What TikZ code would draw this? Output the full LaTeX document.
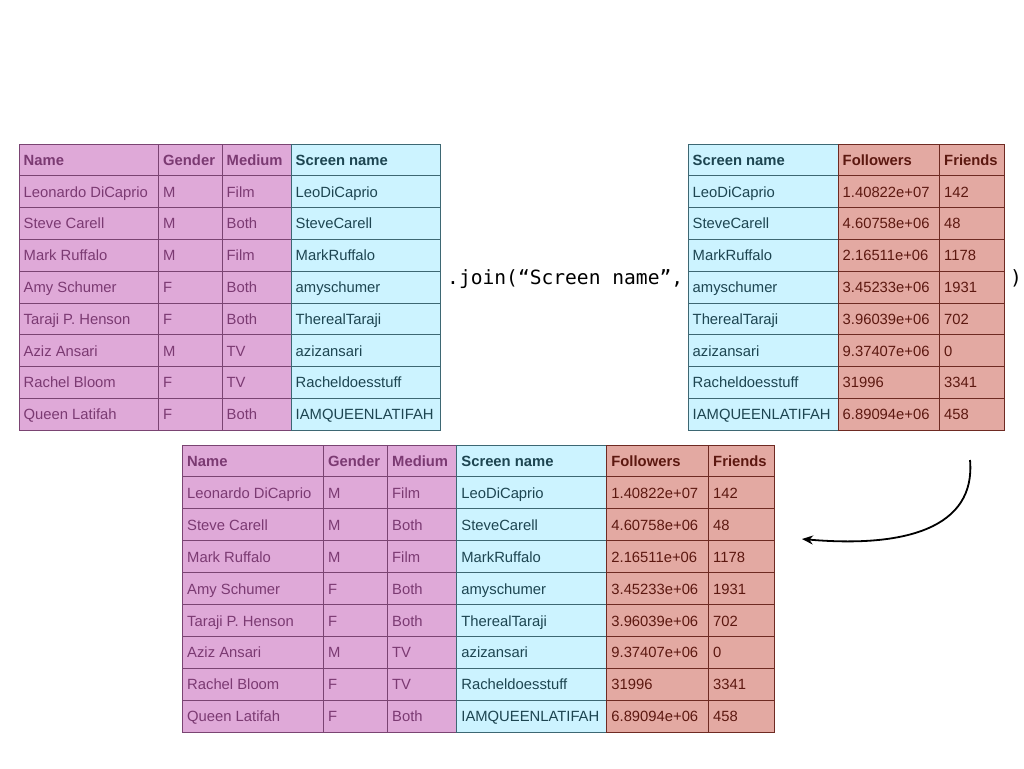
\documentclass[tikz,border=0pt]{standalone}
\usepackage{fontspec}
\setmainfont{Liberation Sans}
\newfontfamily\codefont{DejaVu Sans Mono}
\usetikzlibrary{arrows.meta}
\definecolor{pinkF}{HTML}{DFA9D8}
\definecolor{pinkB}{HTML}{7A4472}
\definecolor{pinkT}{HTML}{7B3A72}
\definecolor{cyanF}{HTML}{CCF3FF}
\definecolor{cyanB}{HTML}{3D6773}
\definecolor{cyanT}{HTML}{1D4551}
\definecolor{redF}{HTML}{E3A9A2}
\definecolor{redB}{HTML}{6E2A22}
\definecolor{redT}{HTML}{5C1810}
\tikzset{
  cellt/.style={anchor=base west, inner sep=0pt, font=\fontsize{14.8}{17}\selectfont},
  headt/.style={anchor=base west, inner sep=0pt, font=\fontsize{14.8}{17}\selectfont\bfseries},
  codet/.style={anchor=base west, inner sep=0pt, font=\codefont\fontsize{19.6}{22}\selectfont, text=black},
  joinarrow/.style={-{Stealth[length=11pt,width=9pt]}, line width=1.8pt, black},
}
% #1 name, #2 x1, #3 x2, #4 top, #5 colour base, #6 header, #7 entries
\newcommand\tblcol[7]{%
  \filldraw[fill=#5F, draw=#5B, line width=1pt] (#2,#4) rectangle (#3,{#4+9*\rh});
  \foreach \i in {1,...,8} \draw[#5B, line width=1pt] (#2,{#4+\i*\rh}) -- (#3,{#4+\i*\rh});
  \node[headt, text=#5T] (#1-0) at ({#2+4.5},{#4+0.5*\rh+5.3}) {#6};
  \foreach [count=\i] \t in {#7}
    \node[cellt, text=#5T] (#1-\i) at ({#2+4.5},{#4+(\i+0.5)*\rh+5.3}) {\t};
}
\begin{document}
\begin{tikzpicture}[x=1pt,y=-1pt]
\useasboundingbox (0,0) rectangle (1024,768);
\fill[white] (0,0) rectangle (1024,768);
% top-left table
\def\rh{31.8}
\tblcol{lname}{19}{158.5}{144}{pink}{Name}{Leonardo DiCaprio,Steve Carell,Mark Ruffalo,Amy Schumer,Taraji P. Henson,Aziz Ansari,Rachel Bloom,Queen Latifah}
\tblcol{lgen}{158.5}{222}{144}{pink}{Gender}{M,M,M,F,F,M,F,F}
\tblcol{lmed}{222}{291}{144}{pink}{Medium}{Film,Both,Film,Both,Both,TV,TV,Both}
\tblcol{lscr}{291}{440}{144}{cyan}{Screen name}{LeoDiCaprio,SteveCarell,MarkRuffalo,amyschumer,TherealTaraji,azizansari,Racheldoesstuff,IAMQUEENLATIFAH}
% top-right table
\tblcol{rscr}{688}{838}{144}{cyan}{Screen name}{LeoDiCaprio,SteveCarell,MarkRuffalo,amyschumer,TherealTaraji,azizansari,Racheldoesstuff,IAMQUEENLATIFAH}
\tblcol{rfol}{838}{939.5}{144}{red}{Followers}{1.40822e+07,4.60758e+06,2.16511e+06,3.45233e+06,3.96039e+06,9.37407e+06,31996,6.89094e+06}
\tblcol{rfri}{939.5}{1004.5}{144}{red}{Friends}{142,48,1178,1931,702,0,3341,458}
% join text
\node[codet] (join) at (447,284) {.join(“Screen name”,};
\node[codet] (close) at (1010,284) {)};
% bottom table
\def\rh{31.95}
\tblcol{bname}{182.5}{323.5}{445}{pink}{Name}{Leonardo DiCaprio,Steve Carell,Mark Ruffalo,Amy Schumer,Taraji P. Henson,Aziz Ansari,Rachel Bloom,Queen Latifah}
\tblcol{bgen}{323.5}{387.5}{445}{pink}{Gender}{M,M,M,F,F,M,F,F}
\tblcol{bmed}{387.5}{456.7}{445}{pink}{Medium}{Film,Both,Film,Both,Both,TV,TV,Both}
\tblcol{bscr}{456.7}{606.7}{445}{cyan}{Screen name}{LeoDiCaprio,SteveCarell,MarkRuffalo,amyschumer,TherealTaraji,azizansari,Racheldoesstuff,IAMQUEENLATIFAH}
\tblcol{bfol}{606.7}{708.5}{445}{red}{Followers}{1.40822e+07,4.60758e+06,2.16511e+06,3.45233e+06,3.96039e+06,9.37407e+06,31996,6.89094e+06}
\tblcol{bfri}{708.5}{774}{445}{red}{Friends}{142,48,1178,1931,702,0,3341,458}
% arrow
\coordinate (arrS) at (970,460);
\coordinate (arrE) at (802,539);
\draw[joinarrow] (arrS) .. controls (976,528) and (905,548) .. (arrE);
\end{tikzpicture}
\end{document}
